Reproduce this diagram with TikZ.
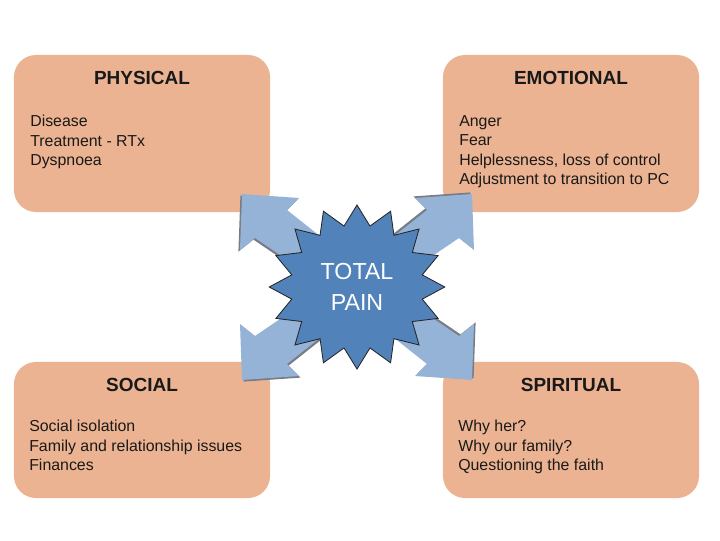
\documentclass[tikz,border=0pt]{standalone}
\usepackage{fontspec}
\setmainfont{Liberation Sans}
\usepackage{tikz}
\usetikzlibrary{
  positioning,
  shapes.geometric
}
\definecolor{boxFill}{RGB}{236,179,146}
\definecolor{arrowFill}{RGB}{149,179,215}
\definecolor{arrowShade}{RGB}{120,124,132}
\definecolor{starFill}{RGB}{81,130,186}
\colorlet{ink}{black!90}
\tikzset{
  painbox/.style={
    fill=boxFill,
    draw=none,
    rounded corners=0.55cm,
    minimum width=6.4cm,
    inner sep=0pt
  },
  boxtitle/.style={
    font=\fontsize{13.5}{16}\selectfont\bfseries,
    text=ink,
    inner sep=0pt
  },
  boxbody/.style={
    font=\fontsize{11.3}{13.8}\selectfont,
    text=ink,
    align=left,
    anchor=north west,
    inner sep=0pt
  },
  painarrow/.style={fill=arrowFill, draw=none},
  arrowshadow/.style={fill=arrowShade, draw=none},
  starbox/.style={
    star,
    star points=16,
    star point ratio=1.32,
    minimum size=4.1cm,
    inner sep=0pt,
    fill=starFill,
    draw=black!85,
    line width=0.6pt
  }
}
\newcommand{\PainArrowShape}{%
  (-115,-93) -- (-58,-89) -- (-70,-77) -- (12,-12)
  -- (-12,12) -- (-102,-49) -- (-117,-37) -- cycle}
\newcommand{\PainArrow}[4]{%
  \begin{scope}[shift={(hub)}]
    \begin{scope}[shift={(#3,#4)}, xscale=#1, yscale=#2]
      \fill[arrowshadow] \PainArrowShape;
    \end{scope}
    \begin{scope}[xscale=#1, yscale=#2]
      \fill[painarrow] \PainArrowShape;
    \end{scope}
  \end{scope}}

\begin{document}
\begin{tikzpicture}[x=0.025cm,y=-0.025cm]
  \useasboundingbox (0,0) rectangle (720,540);

  \node[painbox, minimum height=3.925cm] (physical) at (142,133.5) {};
  \node[painbox, minimum height=3.925cm] (emotional) at (571,133.5) {};
  \node[painbox, minimum height=3.4cm] (social) at (142,430) {};
  \node[painbox, minimum height=3.4cm] (spiritual) at (571,430) {};

  \node[boxtitle] (physicaltitle) at (142,78) {PHYSICAL};
  \node[boxtitle] (emotionaltitle) at (571,78) {EMOTIONAL};
  \node[boxtitle] (socialtitle) at (142,385) {SOCIAL};
  \node[boxtitle] (spiritualtitle) at (571,385) {SPIRITUAL};

  \node[boxbody] (physicalbody) at (30,115) {Disease\\Treatment - RTx\\Dyspnoea};
  \node[boxbody] (emotionalbody) at (459,115) {Anger\\Fear\\Helplessness, loss of control\\Adjustment to transition to PC};
  \node[boxbody] (socialbody) at (29,420) {Social isolation\\Family and relationship issues\\Finances};
  \node[boxbody] (spiritualbody) at (458,420) {Why her?\\Why our family?\\Questioning the faith};

  % arrows fan out from the centre, star on top
  \coordinate (hub) at (357,287);
  \PainArrow{1}{1}{-1.6}{1.6}
  \PainArrow{-1}{1}{-1.6}{-1.6}
  \PainArrow{1}{-1}{1.6}{1.6}
  \PainArrow{-1}{-1}{1.6}{-1.6}

  \node[starbox, xscale=1.07, transform shape] (star) at (hub) {};
  \node[font=\fontsize{16.5}{21.5}\selectfont, text=white, align=center] (totalpain) at (star.center) {TOTAL\\PAIN};
\end{tikzpicture}
\end{document}
